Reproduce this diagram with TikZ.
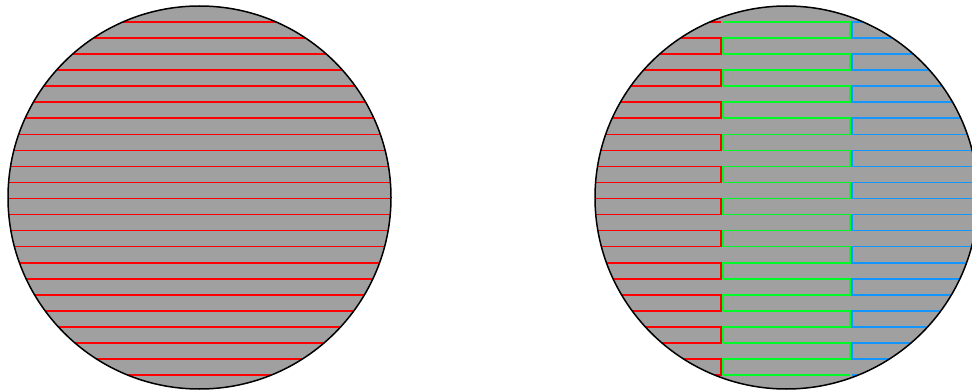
\documentclass[tikz,border=0pt]{standalone}
\usepackage{tikz}
\definecolor{wafer}{RGB}{160,160,160}
\definecolor{passred}{RGB}{255,0,0}
\definecolor{passgreen}{RGB}{0,250,40}
\definecolor{passblue}{RGB}{20,150,255}
\tikzset{
  rim/.style={draw=black, line width=1.5pt},
  track/.style={line width=1.6pt},
}

\begin{document}
\begin{tikzpicture}[x=1pt, y=-1pt]
\useasboundingbox (0,0) rectangle (972,390);
% one pass (left)
\fill[wafer] (199.5,197.5) circle[radius=191.5pt];
\begin{scope}
\clip (199.5,197.5) circle[radius=191.5pt];
\foreach \k in {0,...,22}
  \draw[track, passred] (0,{22+16.05*\k}) -- (400,{22+16.05*\k});
\end{scope}
\draw[rim] (199.5,197.5) circle[radius=191.5pt];
% three zones (right)
\fill[wafer] (786.5,197.5) circle[radius=191.5pt];
\begin{scope}
\clip (786.5,197.5) circle[radius=191.5pt];
% red zone
\draw[track, passred] (590,22) -- (721,22);
\foreach \k in {1,3,...,21} {
  \pgfmathsetmacro\ya{22+16.05*\k}
  \pgfmathsetmacro\yb{\ya+16.05}
  \draw[track, passred] (590,\ya) -- (721,\ya) -- (721,\yb) -- (590,\yb);
}
% green zone
\foreach \k in {0,2,...,20} {
  \pgfmathsetmacro\ya{22+16.05*\k}
  \pgfmathsetmacro\yb{\ya+16.05}
  \pgfmathsetmacro\yc{\yb+16.05}
  \draw[track, passgreen] (723,\ya) -- (850,\ya) -- (850,\yb) -- (723,\yb) -- (723,\yc);
}
\draw[track, passgreen] (723,375.1) -- (850,375.1);
% blue zone
\foreach \k in {0,2,...,20} {
  \pgfmathsetmacro\ya{22+16.05*\k}
  \pgfmathsetmacro\yb{\ya+16.05}
  \draw[track, passblue] (990,\ya) -- (852,\ya) -- (852,\yb) -- (990,\yb);
}
\draw[track, passblue] (852,375.1) -- (990,375.1);
\end{scope}
\draw[rim] (786.5,197.5) circle[radius=191.5pt];
\end{tikzpicture}
\end{document}
